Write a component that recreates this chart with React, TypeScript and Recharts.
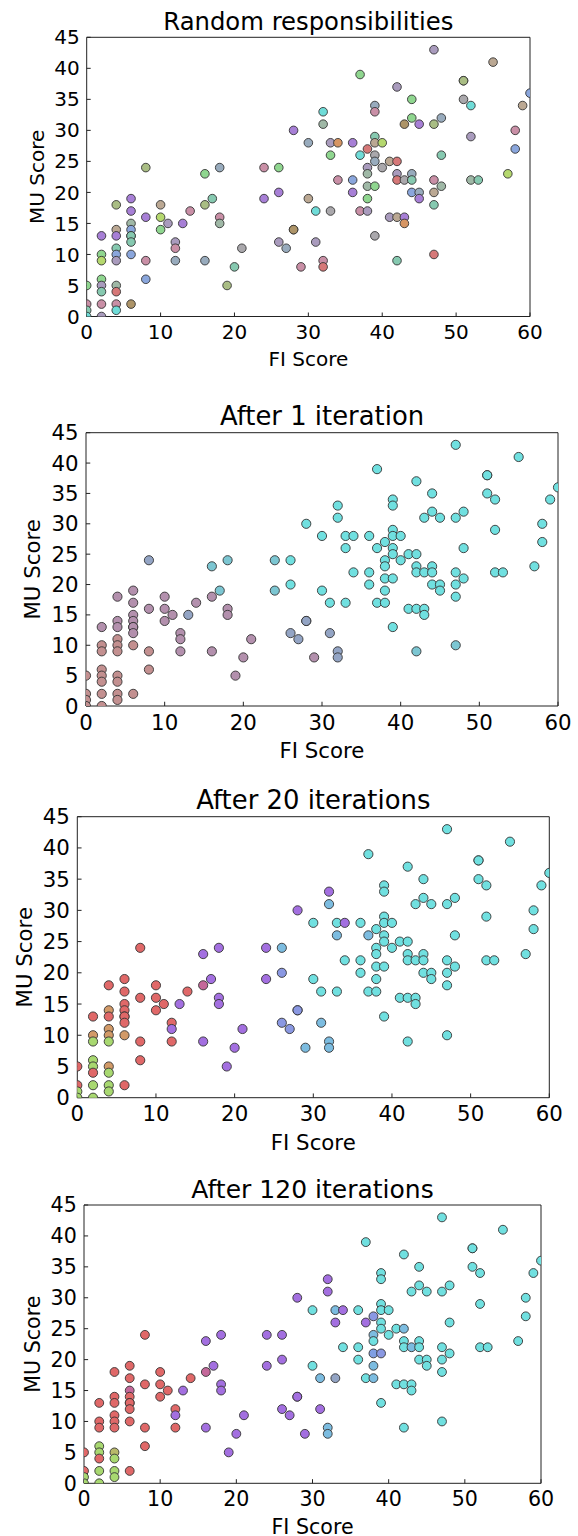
import React from 'react';
import { ScatterChart, Scatter, XAxis, YAxis } from 'recharts';

// FI score of every student (same points in all four panels)
const fiScores = [
  0, 0, 0, 0,
  2, 2, 2, 2, 2, 2, 2, 2,
  4, 4, 4, 4, 4, 4, 4, 4, 4, 4,
  6, 6, 6, 6, 6, 6, 6, 6, 6,
  8, 8, 8, 8,
  10, 10, 10, 11,
  12, 12, 12, 13, 14,
  16, 16, 16, 17,
  18, 18, 18, 19, 20, 21,
  24, 24, 26, 26, 26, 27,
  28, 28, 28, 29,
  30, 30, 31, 31,
  32, 32, 32, 32,
  33, 33, 33, 34, 34,
  36, 36, 36, 37, 37, 37,
  38, 38, 38, 38, 38, 38,
  39, 39, 39, 39, 39, 39, 39, 39,
  40, 40, 41, 41,
  42, 42, 42, 42, 42, 42,
  43, 43, 43, 43,
  44, 44, 44, 44, 44,
  45, 45, 45,
  47, 47, 47, 47, 47, 47,
  48, 48, 48,
  51, 51, 51, 52, 52, 52, 53,
  55, 57, 58, 58, 59, 60,
];

// MU score of every student
const muScores = [
  5, 2, 1, 0,
  13, 10, 9, 6, 5, 4, 2, 0,
  18, 14, 13, 11, 10, 9, 5, 4, 2, 1,
  19, 17, 15, 14, 13, 13, 12, 10, 2,
  24, 16, 9, 6,
  18, 16, 14, 15,
  12, 11, 9, 15, 17,
  23, 18, 9, 19,
  24, 16, 15, 5, 8, 11,
  24, 19, 24, 20, 12, 11,
  30, 14, 14, 8,
  28, 19, 17, 12,
  33, 31, 9, 8,
  28, 26, 17, 28, 22,
  28, 22, 20, 39, 26, 17,
  27, 24, 23, 21, 19, 17,
  34, 33, 29, 28, 26, 25, 21, 13,
  28, 24, 25, 16,
  37, 25, 23, 22, 16, 9,
  31, 22, 16, 15,
  35, 32, 23, 22, 20,
  31, 20, 19,
  43, 31, 22, 20, 18, 10,
  32, 26, 21,
  38, 38, 35, 34, 29, 22, 22,
  41, 23, 30, 27, 34, 36,
];

// responsibility colour code of each point, per panel
const colorsRandom = [
  'gksc', 'pgygmskm', 'otpsbmxrkc', 'ppxbsssbn', 'opkb', 'tygm', 'mkhpk', 'gohs',
  'hkxosq', 'kpgpmh', 'pnnk', 'htcm', 'cxkr', 'mgqak', 'pbpgck', 'rmxxgm',
  'hkstqhgq', 'yqtm', 'mrmrts', 'nqpa', 'gghsb', 'php', 'moktsr', 'hsx',
  'ooqcmxs', 'tykbtb',
].join('').split('');

const colorsIter1 = [
  'BBBB', 'MBBBBBBB', 'MMMBBBBBBB', 'MMMMMMMBB', 'GMBB', 'MMMM', 'MMMGM', 'TMMT',
  'TMMMMM', 'TTCCGG', 'CGGM', 'CCCG', 'CCGG', 'CCCCC', 'CCCCCC', 'CCCCCC',
  'CCCCCCCC', 'CCCC', 'CCCCCT', 'CCCC', 'CCCCC', 'CCC', 'CCCCCT', 'CCC',
  'CCCCCCC', 'CCCCCC',
].join('').split('');

const colorsIter20 = [
  'RRYY', 'RNYYYRYY', 'RNRNNYNYYY', 'RRRRRRRNR', 'RRRR', 'RRRR', 'RPRPR', 'PKPP',
  'PPPPPP', 'PPLVVV', 'PVVL', 'CCCL', 'PLLL', 'CLCPC', 'CCCCLC', 'CCCCCC',
  'CCCCCCCC', 'CCCC', 'CCCCCC', 'CCCC', 'CCCCC', 'CCC', 'CCCCCC', 'CCC',
  'CCCCCCC', 'CCCCCC',
].join('').split('');

const colorsIter120 = [
  'RRYY', 'RRRYYRYY', 'RRRRRROYYY', 'RRKRRRRRR', 'RRRR', 'RRRR', 'RPRPR', 'PKPP',
  'PPPPPP', 'PPPPPP', 'PPPP', 'CCLP', 'PPLL', 'LPGPC', 'CCCCPC', 'VLCULL',
  'CCCCCCVC', 'CCCC', 'CLCCCC', 'CLCC', 'CCCCC', 'CCC', 'CCCCCC', 'CCC',
  'CCCCCCC', 'CCCCCC',
].join('').split('');

const panelTitles = ['Random responsibilities', 'After 1 iteration', 'After 20 iterations', 'After 120 iterations'];
const xTicks = [0, 10, 20, 30, 40, 50, 60];
const yTicks = [0, 5, 10, 15, 20, 25, 30, 35, 40, 45];

const PALETTE: Record<string, string> = {
  g: '#8fd68f', k: '#c98fa6', s: '#86c9b0', c: '#6fdcd8', p: '#a77fd6', y: '#b5d86e',
  m: '#a99bbd', o: '#a9bd84', t: '#bba893', b: '#8aa6dc', x: '#9fb8a6', r: '#d67878',
  n: '#ad9468', h: '#98abbd', q: '#aaa8ac', a: '#d69563',
  B: '#c39090', M: '#b390ad', G: '#93a4c4', T: '#7cc6d2', C: '#70e0e0',
  R: '#e06868', N: '#d29a68', Y: '#a8d870', P: '#a36fe0', L: '#7cbce0',
  V: '#8a98e2', K: '#c4689a', O: '#b8b86a', U: '#7f9fe3',
};

const FONT = '"DejaVu Sans", sans-serif';

type Box = { left: number; right: number; top: number; bottom: number; s: number };
const boxes: Box[] = [
  { left: 86.7, right: 530, top: 37.3, bottom: 316.5, s: 1 },
  { left: 86, right: 558, top: 432.7, bottom: 706, s: 1.065 },
  { left: 77.3, right: 549.3, top: 816.7, bottom: 1097.7, s: 1.065 },
  { left: 84, right: 541, top: 1205, bottom: 1483.3, s: 1.03 },
];
const panelCodes = [colorsRandom, colorsIter1, colorsIter20, colorsIter120];

function Panel({ title, codes, box }: { title: string; codes: string[]; box: Box }) {
  const s = box.s;
  const divTop = Math.floor(box.top - 40);
  const H = Math.ceil(box.bottom - divTop + 56 * s);
  const data = fiScores.map((x, i) => ({ x, y: muScores[i], color: PALETTE[codes[i]] || '#cccccc' }));
  const fs = 20 * s;
  const tickStyle = { fontSize: fs, fill: '#000', fontFamily: FONT };
  const r = 4.3 * s;
  const dot = (p: any) => (
    <circle cx={p.cx} cy={p.cy} r={r} fill={p.payload.color} stroke="#333" strokeWidth={0.9} />
  );
  const tickLen = -4 * s;
  const cx = (box.left + box.right) / 2;
  const cy = (box.top + box.bottom) / 2 - divTop;
  return (
    <div style={{ position: 'absolute', left: 0, top: divTop, width: 578, height: H }}>
      <ScatterChart
        width={578}
        height={H}
        margin={{ top: box.top - divTop - 1, right: 578 - box.right - 1, bottom: 0, left: 0 }}
      >
        <XAxis xAxisId="bottom" orientation="bottom" type="number" dataKey="x" domain={[0, 60]} ticks={xTicks}
          interval={0} allowDataOverflow height={H - (box.bottom - divTop)} tickSize={tickLen}
          tickMargin={12 * s} tick={tickStyle} stroke="#222" />
        <XAxis xAxisId="top" orientation="top" type="number" domain={[0, 60]} ticks={xTicks}
          interval={0} allowDataOverflow height={1} tickSize={tickLen} tick={false} stroke="#222" />
        <YAxis yAxisId="left" orientation="left" type="number" dataKey="y" domain={[0, 45]} ticks={yTicks}
          interval={0} allowDataOverflow width={box.left} tickSize={tickLen} tickMargin={11 * s}
          tick={tickStyle} stroke="#222" />
        <YAxis yAxisId="right" orientation="right" type="number" domain={[0, 45]} ticks={yTicks}
          interval={0} allowDataOverflow width={1} tickSize={tickLen} tick={false} stroke="#222" />
        <Scatter xAxisId="bottom" yAxisId="left" data={data} dataKey="y" isAnimationActive={false} shape={dot} />
      </ScatterChart>
      <svg width={578} height={H} style={{ position: 'absolute', left: 0, top: 0, pointerEvents: 'none', overflow: 'visible' }}>
        <text x={cx} y={box.top - divTop - 7 * s} textAnchor="middle" fontSize={24.3 * s} fontFamily={FONT} fill="#000">
          {title}
        </text>
        <text x={cx} y={box.bottom - divTop + 49 * s} textAnchor="middle" fontSize={fs} fontFamily={FONT} fill="#000">
          FI Score
        </text>
        <text transform={`translate(${box.left - 50 * s}, ${cy}) rotate(-90)`} textAnchor="middle" dy="0.36em"
          fontSize={fs} fontFamily={FONT} fill="#000">
          MU Score
        </text>
      </svg>
    </div>
  );
}

export default function App() {
  return (
    <div style={{ position: 'absolute', left: 0, top: 0, width: 578, height: 1536, background: '#fff' }}>
      {boxes.map((box, i) => (
        <Panel key={i} title={panelTitles[i]} codes={panelCodes[i]} box={box} />
      ))}
    </div>
  );
}
